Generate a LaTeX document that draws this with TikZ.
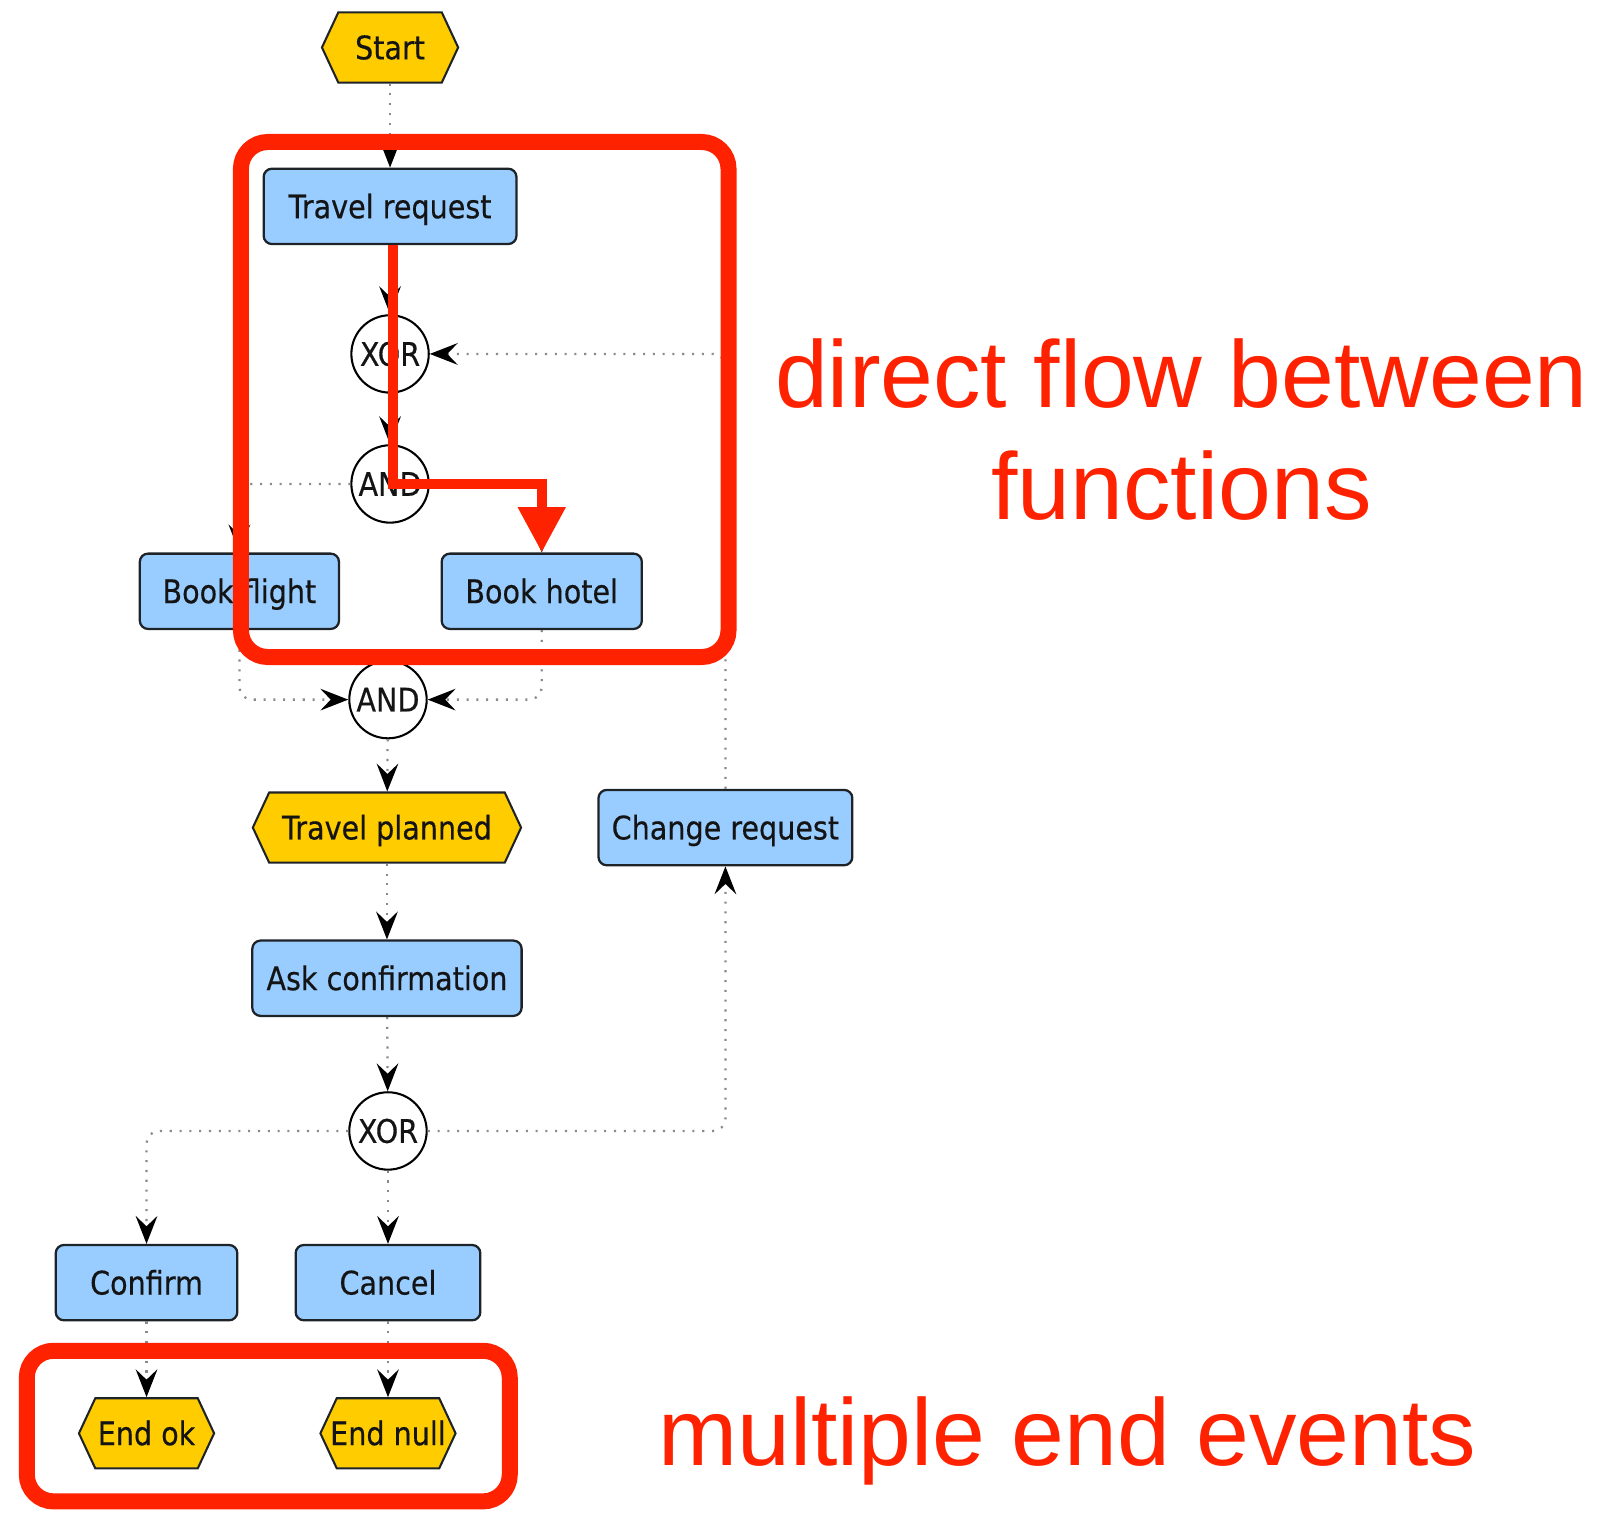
\documentclass[tikz,border=0pt]{standalone}
\usepackage{fontspec}
\usetikzlibrary{arrows.meta,shapes.symbols,calc}
\newfontfamily\labfam[FakeStretch=0.88,FakeBold=0.4]{DejaVu Sans}
\newfontfamily\notefam{Liberation Sans}
\definecolor{evtyellow}{HTML}{FFCC00}
\definecolor{funcblue}{HTML}{99CCFF}
\definecolor{annred}{HTML}{FF2200}
\definecolor{dotgray}{HTML}{8A8A8A}
\definecolor{edgedark}{HTML}{1E2328}
\tikzset{
  labfont/.style={font=\labfam\fontsize{31.5}{36}\selectfont, text=black!92},
  func/.style={labfont, draw=edgedark, line width=2.2pt, fill=funcblue, rounded corners=8pt,
    minimum height=73pt, inner sep=0pt, text height=23pt, text depth=0pt},
  evt/.style={labfont, signal, signal to=west and east, signal pointer angle=130,
    draw=edgedark, line width=2pt, fill=evtyellow, minimum height=68pt, inner sep=0pt,
    text height=23pt, text depth=0pt},
  gate/.style={labfont, circle, draw=black, line width=2pt, fill=white, minimum size=75pt, inner sep=0pt,
    text height=23pt, text depth=0pt},
  flow/.style={draw=dotgray, line width=2.2pt, dash pattern=on 2pt off 7.5pt, rounded corners=12pt,
    -{Stealth[length=27pt,width=21pt,inset=10pt,color=black]}},
  redbox/.style={draw=annred, line width=15.5pt, rounded corners=26pt},
  redflow/.style={draw=annred, line width=9.7pt, line join=miter,
    -{Triangle[length=44pt,width=44pt]}},
  note/.style={font=\notefam\fontsize{92}{108}\selectfont, text=annred, anchor=base, inner sep=0pt}
}
\begin{document}
\begin{tikzpicture}[x=1pt,y=-1pt]
\useasboundingbox (0,0) rectangle (1568,1467);
\fill[white] (0,0) rectangle (1568,1467);

% events
\node[evt, minimum width=132pt] (start) at (378,46) {\makebox[0pt]{Start}};
\node[evt, minimum width=260pt] (tp) at (375,802) {\makebox[0pt]{Travel planned}};
\node[evt, minimum width=131pt] (endok) at (142,1389) {\makebox[0pt]{End ok}};
\node[evt, minimum width=131pt] (endnull) at (376,1389) {\makebox[0pt]{End null}};

% functions
\node[func, minimum width=245pt] (tr) at (378,200) {Travel request};
\node[func, minimum width=193pt] (bf) at (232,573) {Book flight};
\node[func, minimum width=194pt] (bh) at (525,573) {Book hotel};
\node[func, minimum width=246pt] (cr) at (703,802) {Change request};
\node[func, minimum width=261pt] (ac) at (375,948) {Ask confirmation};
\node[func, minimum width=176pt] (confirm) at (142,1243) {Confirm};
\node[func, minimum width=179pt] (cancel) at (376,1243) {Cancel};

% gateways
\node[gate] (xor1) at (378,343) {XOR};
\node[gate] (and1) at (378,469) {AND};
\node[gate] (and2) at (376,678) {AND};
\node[gate] (xor2) at (376,1096) {XOR};

% control flow
\draw[flow] (start) -- (tr);
\draw[flow] (tr) -- (xor1);
\draw[flow] (xor1) -- (and1);
\draw[flow] (and1.west) -| (bf.north);
\draw[flow] (and1.east) -| (bh.north);
\draw[flow] (bf.south) |- (and2.west);
\draw[flow] (bh.south) |- (and2.east);
\draw[flow] (and2) -- (tp);
\draw[flow] (tp) -- (ac);
\draw[flow] (ac) -- (xor2);
\draw[flow] (xor2.west) -| (confirm.north);
\draw[flow] (xor2) -- (cancel);
\draw[flow] (xor2.east) -| (cr.south);
\draw[flow] (cr.north) |- (xor1.east);
\draw[flow] (confirm) -- (endok);
\draw[flow] (cancel) -- (endnull);

% annotations
\draw[redflow] ([xshift=3pt]tr.south) -- ([xshift=3pt]tr.south |- and1.center) -| (bh.north);
\draw[redbox] (233.5,137.6) rectangle (706,636.7);
\draw[redbox] (26,1309) rectangle (494,1455);
\node[note] (n1) at (1145,395) {direct flow between};
\node[note] (n2) at (1145,503) {functions};
\node[note] (n3) at (1034.5,1420) {multiple end events};
\end{tikzpicture}
\end{document}
